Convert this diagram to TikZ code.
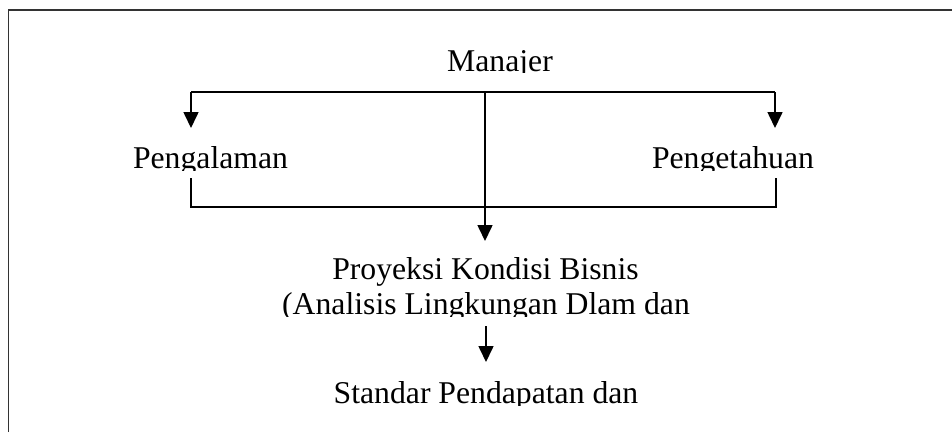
\documentclass[tikz,border=0pt]{standalone}
\usepackage{fontspec}
\setmainfont{Liberation Serif}
\usetikzlibrary{arrows.meta}
\begin{document}
\begin{tikzpicture}[x=1bp,y=-1bp,
  line width=1.6bp,
  txt/.style={font=\fontsize{31.7bp}{35bp}\selectfont, anchor=base, inner sep=0pt},
  arr/.style={-{Triangle[width=15bp,length=16bp]}},
  frame/.style={draw=black!80, line width=1.6bp}]
\useasboundingbox (0,0) rectangle (952,432);
% open frame (cropped at right and bottom)
\draw[frame] (8.5,432) -- (8.5,10) -- (952,10);

% texts (clipped at the bottom as in the reference)
\begin{scope}
  \clip (0,0) rectangle (952,72);
  \node[txt] (man) at (500,71) {Manajer};
\end{scope}
\begin{scope}
  \clip (0,0) rectangle (952,170);
  \node[txt] (pga) at (210.5,168) {Pengalaman};
  \node[txt] (pgt) at (733,168) {Pengetahuan};
\end{scope}
\begin{scope}
  \clip (0,0) rectangle (952,316);
  \node[txt] (pro1) at (485.5,279) {Proyeksi Kondisi Bisnis};
  \node[txt] (pro2) at (486,314) {(Analisis Lingkungan Dlam dan};
\end{scope}
\begin{scope}
  \clip (0,0) rectangle (952,405);
  \node[txt] (std) at (486,403) {Standar Pendapatan dan};
\end{scope}

% junction coordinates
\coordinate (jt) at (485,92);
\coordinate (jl) at (191,92);
\coordinate (jr) at (775,92);
\coordinate (al) at (191,128);
\coordinate (ar) at (775,128);
\coordinate (bl) at (191,178);
\coordinate (blc) at (191,207);
\coordinate (brc) at (776,207);
\coordinate (br) at (776,178);
\coordinate (pin) at (485,241);
\coordinate (pout) at (486,326);
\coordinate (sin) at (486,362);

% connectors
\draw (jl) -- (jr);
\draw[arr] (jl) -- (al);
\draw[arr] (jr) -- (ar);
\draw[arr] (jt) -- (pin);
\draw (bl) -- (blc) -- (brc) -- (br);
\draw[arr] (pout) -- (sin);
\end{tikzpicture}
\end{document}
